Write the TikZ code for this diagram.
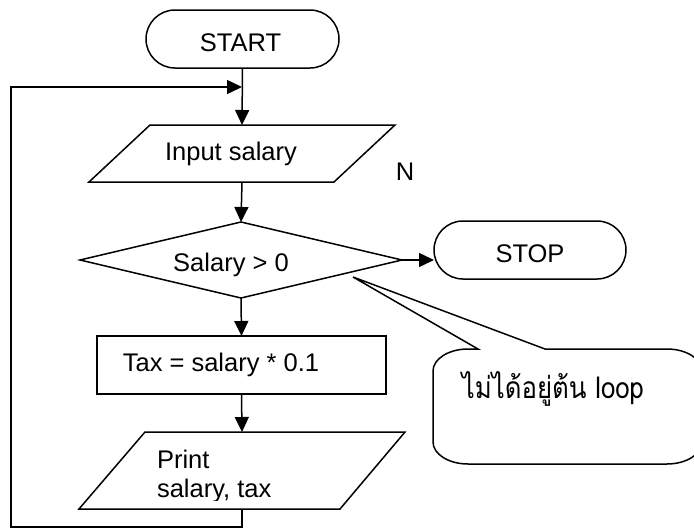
\documentclass[tikz,border=0pt]{standalone}
\usepackage{fontspec}
\setmainfont{Liberation Sans}
\newfontfamily\thaifont[Script=Thai,FakeStretch=0.86]{Loma}
\usetikzlibrary{arrows.meta}
\begin{document}
\begin{tikzpicture}[x=1pt,y=-1pt,
  every node/.style={inner sep=0pt, outer sep=0pt},
  term/.style={draw, line width=1.5pt, rounded corners=29pt, rectangle},
  lbl/.style={font=\fontsize{25.5}{30}\selectfont, anchor=base},
  line/.style={line width=1.5pt},
  flow/.style={line width=1.5pt, -{Triangle[length=15pt,width=14pt]}}]
\useasboundingbox (0,0) rectangle (694,528);

% terminals
\node[term, minimum width=193pt, minimum height=58pt] (start) at (242.5,39) {};
\node[lbl] (startlbl) at (240.5,51.5) {START};
\node[term, minimum width=192pt, minimum height=58pt] (stop) at (530,250) {};
\node[lbl] (stoplbl) at (530,262) {STOP};

% input parallelogram
\node[draw=none, minimum width=184pt, minimum height=57pt] (input) at (242,153.5) {};
\draw[line] ([xshift=-92pt]input.north) -- ([xshift=153pt]input.north)
  -- ([xshift=92pt]input.south) -- ([xshift=-153pt]input.south) -- cycle;
\node[lbl] (inputlbl) at (231,160) {Input salary};

% decision
\node[draw=none, minimum width=322pt, minimum height=76pt] (dec) at (241,260) {};
\draw[line] (dec.west) -- (dec.north) -- (dec.east) -- (dec.south) -- cycle;
\node[lbl] (declbl) at (231,271) {Salary > 0};
\node[lbl] (nlbl) at (405,180) {N};

% process
\node[draw, line width=1.5pt, minimum width=289pt, minimum height=58pt] (tax) at (241.5,365) {};
\node[lbl] (taxlbl) at (221,371) {Tax = salary * 0.1};

% output parallelogram
\node[draw=none, minimum width=196pt, minimum height=77pt] (print) at (242,470.5) {};
\draw[line] ([xshift=-97pt]print.north) -- ([xshift=163pt]print.north)
  -- ([xshift=98pt]print.south) -- ([xshift=-163pt]print.south) -- cycle;
\node[lbl, anchor=base west] (printlbl) at (157,468) {Print};
\begin{scope}
  \clip (100,470) rectangle (400,500);
  \node[lbl, anchor=base west] (printlbl2) at (157,497) {salary, tax};
\end{scope}

% connectors
\coordinate (merge) at (242,87);
\coordinate (lb) at (11,527);
\draw[flow] (start.south) -- (input.north);
\draw[flow] (input.south) -- (dec.north);
\draw[flow] (dec.east) -- (dec.east -| stop.west);
\draw[flow] (dec.south) -- (tax.north);
\draw[flow] (tax.south) -- (print.north);
\draw[flow] (print.south) |- (lb) |- (merge);

% comment balloon
\draw[line, line join=miter]
  (478,349) -- (353,277) -- (545,349) -- (667,349)
  .. controls (686.3,349) and (702,358.9) .. (702,371)
  -- (702,442)
  .. controls (702,454.1) and (686.3,464) .. (667,464)
  -- (468,464)
  .. controls (448.7,464) and (433,454.1) .. (433,442)
  -- (433,371)
  .. controls (433,358.9) and (448.7,349) .. (468,349) -- cycle;
\node[font=\thaifont\fontsize{30}{36}\selectfont, anchor=base] (note) at (553,398) {ไม่ได้อยู่ต้น loop};
\end{tikzpicture}
\end{document}
